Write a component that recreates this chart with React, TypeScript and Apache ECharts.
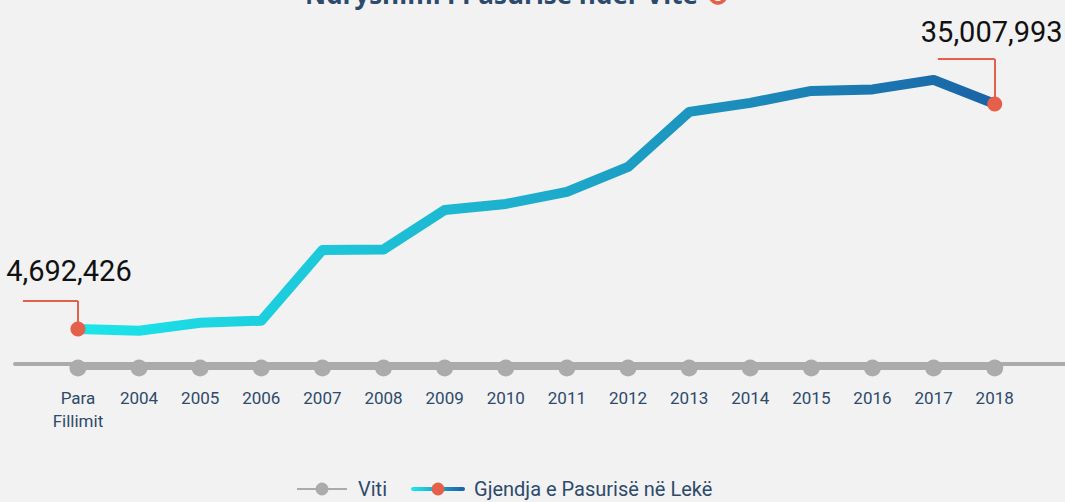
import React, { useEffect, useRef } from "react";
import * as echarts from "echarts";

const categories = ["Para\nFillimit", "2004", "2005", "2006", "2007", "2008", "2009", "2010", "2011", "2012", "2013", "2014", "2015", "2016", "2017", "2018"];
const wealth = [4692426, 4460000, 5540000, 5810000, 15330000, 15400000, 20720000, 21530000, 23150000, 26520000, 33930000, 35140000, 36760000, 36960000, 38240000, 35007993];
const titleText = "Ndryshimi i Pasurisë ndër Vite";
const seriesNames = ["Viti", "Gjendja e Pasurisë në Lekë"];

const RED = "#e5604a";
const NAVY = "#2d4a6b";
const NUM_FONT = "Roboto, sans-serif";
const LEGEND_ICON_W = 50;

const makeGradient = () =>
  new echarts.graphic.LinearGradient(0, 0, 1, 0, [
    { offset: 0, color: "#1ce6ea" },
    { offset: 0.5, color: "#1dadcc" },
    { offset: 1, color: "#1a63a6" },
  ]);

const legendGradient = () =>
  new echarts.graphic.LinearGradient(0, 0, LEGEND_ICON_W, 0, [
    { offset: 0, color: "#1ce6ea" },
    { offset: 1, color: "#1a63a6" },
  ], true);

export default function App() {
  const ref = useRef<HTMLDivElement>(null);
  useEffect(() => {
    if (!ref.current) return;
    const chart = echarts.init(ref.current, null, { renderer: "svg" });
    const last = wealth.length - 1;
    const fmt = (v: number) => v.toLocaleString("en-US");
    const mainData = wealth.map((v, i) => {
      if (i === 0 || i === last) {
        return {
          value: [i, v],
          symbol: "circle",
          symbolSize: 15,
          itemStyle: { color: RED },
          label: {
            show: true,
            position: "top",
            distance: i === 0 ? 33 : 47,
            offset: i === 0 ? [-9, 0] : [-3, 0],
            formatter: fmt(v),
            fontSize: 29,
            lineHeight: 34,
            color: "#111",
            fontFamily: NUM_FONT,
          },
        };
      }
      return { value: [i, v], symbol: "none" };
    });
    const firstTurn = 8460000;
    const lastTurn = 41070000;
    chart.setOption({
      animation: false,
      backgroundColor: "#f2f2f2",
      title: {
        text: titleText + " {i|↻}",
        left: 300,
        top: -26,
        textStyle: {
          fontSize: 26,
          fontWeight: "bold",
          color: NAVY,
          fontFamily: "'Open Sans', sans-serif",
          rich: { i: { color: RED, fontSize: 30, fontWeight: "bold" } },
        },
      },
      legend: {
        left: 291,
        top: 474,
        itemWidth: LEGEND_ICON_W,
        itemHeight: 16,
        itemGap: 24,
        data: [
          { name: seriesNames[0] },
          { name: seriesNames[1], lineStyle: { color: legendGradient(), width: 4 }, itemStyle: { color: RED } },
        ],
        textStyle: { fontSize: 20, color: NAVY, fontFamily: NUM_FONT, padding: [0, 0, 0, 6] },
      },
      grid: { left: 15, right: 0, top: 52, bottom: 134, containLabel: false },
      xAxis: {
        type: "value",
        min: -1.03,
        max: 16.15,
        splitLine: { show: false },
        axisTick: { show: false },
        axisLine: { show: true, lineStyle: { color: "#ababab", width: 4 } },
        axisLabel: {
          customValues: categories.map((_, i) => i),
          formatter: (v: number) => categories[Math.round(v)] ?? "",
          margin: 18,
          fontSize: 17,
          lineHeight: 23,
          color: NAVY,
          fontFamily: NUM_FONT,
          verticalAlign: "top",
        },
      },
      yAxis: [
        { type: "value", min: -566000, max: 42000000, show: false, splitLine: { show: false } },
        { type: "value", min: 0, max: 1, show: false, splitLine: { show: false } },
      ],
      series: [
        {
          name: seriesNames[0],
          type: "line",
          yAxisIndex: 1,
          data: categories.map((_, i) => [i, 0]),
          symbol: "circle",
          symbolSize: 17,
          itemStyle: { color: "#ababab" },
          lineStyle: { color: "#ababab", width: 4 },
          z: 1,
          silent: true,
        },
        {
          name: seriesNames[1],
          type: "line",
          data: mainData,
          symbol: "circle",
          symbolSize: 15,
          itemStyle: { color: RED },
          lineStyle: {
            width: 10,
            cap: "round",
            join: "round",
            color: makeGradient(),
          },
          z: 3,
          clip: false,
          markLine: {
            silent: true,
            symbol: "none",
            label: { show: false },
            lineStyle: { color: RED, width: 2, type: "solid" },
            data: [
              [{ coord: [0, wealth[0]] }, { coord: [0, firstTurn] }],
              [{ coord: [0, firstTurn] }, { coord: [-0.9, firstTurn] }],
              [{ coord: [last, wealth[last]] }, { coord: [last, lastTurn] }],
              [{ coord: [last, lastTurn] }, { coord: [14.07, lastTurn] }],
            ],
          },
        },
      ],
    });
    return () => chart.dispose();
  }, []);
  return <div ref={ref} style={{ position: "absolute", left: 0, top: 0, width: 1065, height: 502 }} />;
}
